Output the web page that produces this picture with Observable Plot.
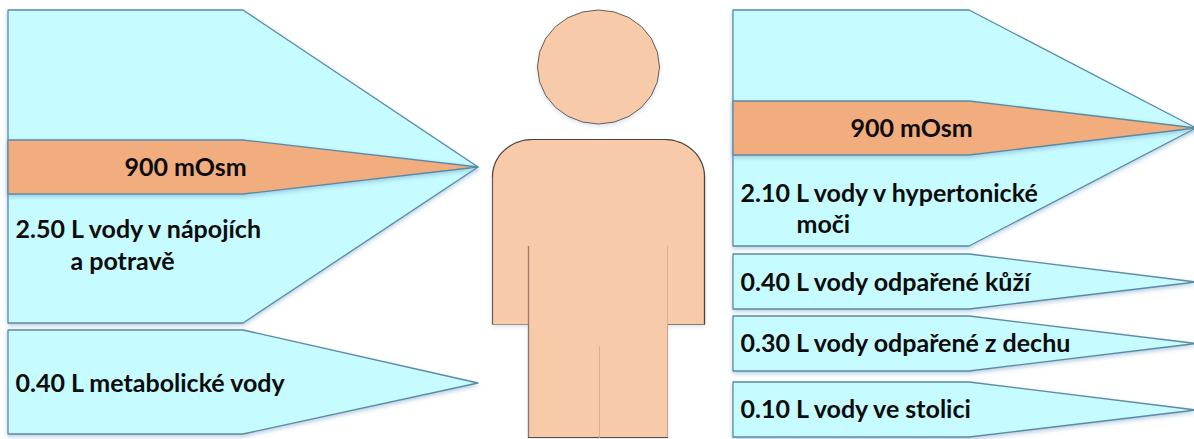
<!DOCTYPE html>
<html lang="cs">
<head>
<meta charset="utf-8">
<title>Bilance vody a osmolů</title>
<script src="https://cdn.jsdelivr.net/npm/d3@7"></script>
<script src="https://cdn.jsdelivr.net/npm/@observablehq/plot@0.6"></script>
<style>
  html, body { margin: 0; padding: 0; background: #fff; overflow: hidden; }
  svg { display: block; }
</style>
</head>
<body>
<div id="chart"></div>
<script>
// Pentagonal arrows: intake on the left, losses on the right.
const arrowLeft     = [8, 8, 8, 733, 733, 733, 733, 733];
const arrowShoulder = [243, 243, 243, 969, 969, 969, 969, 969];
const arrowTip      = [478, 478, 478, 1196, 1196, 1196, 1196, 1196];
const arrowTop      = [10, 330, 140, 10, 254, 316, 382, 101];
const arrowBottom   = [323, 434, 194, 246, 309, 371, 437, 155];
const arrowMiddle   = [167, 383, 167, 128, 282, 343.5, 410, 128];
const arrowKind     = ["voda", "voda", "osmoly", "voda", "voda", "voda", "voda", "osmoly"];

// Figure outline.
const headCenter = [598, 66.5];
const headRadii = [61, 57];
const torsoX = [492, 704];
const legsX = [528, 667];
const shoulderY = 139;
const shoulderRadius = [40, 37];
const armBottom = 324;
const slitTop = 246;
const legsBottom = 437;
const splitX = 599;
const splitTop = 346;

// Labels.
const labelTexts = [
  "900 mOsm", "2.50 L vody v nápojích", "a potravě", "0.40 L metabolické vody",
  "900 mOsm", "2.10 L vody v hypertonické", "moči",
  "0.40 L vody odpařené kůží", "0.30 L vody odpařené z dechu", "0.10 L vody ve stolici"
];
const labelX = [125, 16, 71, 16, 851, 741, 797, 741, 741, 741];
const labelY = [167, 229, 261, 383, 128, 193, 224, 282, 343, 409];

const fills = {voda: "#c6fbff", osmoly: "#f2ad7f"};
const skin = "#f7cbaa";
const edge = "#5d8aa3";
const shadow = "drop-shadow(0 2px 2px rgba(120,165,205,0.55))";
const softShadow = "drop-shadow(0 2px 2px rgba(150,185,215,0.4))";

// Each arrow is a band that narrows to one point at its tip.
const arrowMarks = arrowKind.map((kind, i) => Plot.areaY(
  [
    {x: arrowLeft[i], y1: arrowTop[i], y2: arrowBottom[i]},
    {x: arrowShoulder[i], y1: arrowTop[i], y2: arrowBottom[i]},
    {x: arrowTip[i], y1: arrowMiddle[i], y2: arrowMiddle[i]}
  ],
  {x: "x", y1: "y1", y2: "y2", fill: fills[kind], stroke: edge, strokeWidth: 1.3,
   imageFilter: shadow}
));

// Elliptical arc between two angles, as a polyline.
const arc = (cx, cy, rx, ry, a0, a1) =>
  d3.range(0, 1.001, 1 / 24).map(t => {
    const a = a0 + (a1 - a0) * t;
    return {x: cx + rx * Math.cos(a), y: cy + ry * Math.sin(a)};
  });

const [rx, ry] = shoulderRadius;
const shoulders = [
  ...arc(torsoX[0] + rx, shoulderY + ry, rx, ry, Math.PI, 1.5 * Math.PI),
  ...arc(torsoX[1] - rx, shoulderY + ry, rx, ry, 1.5 * Math.PI, 2 * Math.PI)
];
const bodyOutline = [
  ...shoulders,
  {x: torsoX[1], y: armBottom},
  {x: legsX[1], y: armBottom},
  {x: legsX[1], y: legsBottom},
  {x: legsX[0], y: legsBottom},
  {x: legsX[0], y: armBottom},
  {x: torsoX[0], y: armBottom}
];
const headOutline = arc(headCenter[0], headCenter[1], headRadii[0], headRadii[1], 0, 2 * Math.PI);

const xy = {x: "x", y: "y"};
const seg = (x1, y1, x2, y2, stroke, strokeWidth) =>
  Plot.line([{x: x1, y: y1}, {x: x2, y: y2}], {...xy, stroke, strokeWidth});

const chart = Plot.plot({
  width: 1194,
  height: 439,
  margin: 0,
  style: {background: "#fff", overflow: "hidden"},
  x: {domain: [0, 1194], range: [0, 1194], axis: null},
  y: {domain: [0, 439], range: [0, 439], axis: null},
  marks: [
    ...arrowMarks,
    // Head
    Plot.line(headOutline, {...xy, fill: skin, stroke: "#6b5a50", strokeWidth: 1, imageFilter: softShadow}),
    // Body
    Plot.line([...bodyOutline, bodyOutline[0]], {...xy, fill: skin, stroke: "none", imageFilter: softShadow}),
    Plot.line(shoulders, {...xy, stroke: "#4e4238", strokeWidth: 1.2}),
    seg(torsoX[0], shoulderY + ry, torsoX[0], armBottom, "#6b5a50", 1.2),
    seg(torsoX[1], shoulderY + ry, torsoX[1], armBottom, "#4e4238", 1.3),
    seg(torsoX[0], armBottom, legsX[0], armBottom, "#a8907e", 1),
    seg(legsX[1], armBottom, torsoX[1], armBottom, "#8c7766", 1),
    seg(legsX[0], slitTop, legsX[0], armBottom, "#b07466", 1.4),
    seg(legsX[0], armBottom, legsX[0], legsBottom, "#8a7870", 1.3),
    seg(legsX[1], slitTop, legsX[1], armBottom, "#dcb096", 1.1),
    seg(legsX[1], armBottom, legsX[1], legsBottom, "#c9a48e", 1),
    seg(legsX[0], legsBottom, legsX[1], legsBottom, "#5a4c44", 1.2),
    seg(splitX, splitTop, splitX, legsBottom, "#dcae98", 1),
    // Labels
    Plot.text(labelTexts, {
      x: (_, i) => labelX[i] - 1,
      y: (_, i) => labelY[i],
      text: d => d,
      textAnchor: "start",
      lineAnchor: "middle",
      fontFamily: "Lato",
      fontWeight: 700,
      fontSize: 25,
      fill: "#0c0c0c"
    })
  ]
});
document.getElementById("chart").append(chart);
</script>
</body>
</html>
